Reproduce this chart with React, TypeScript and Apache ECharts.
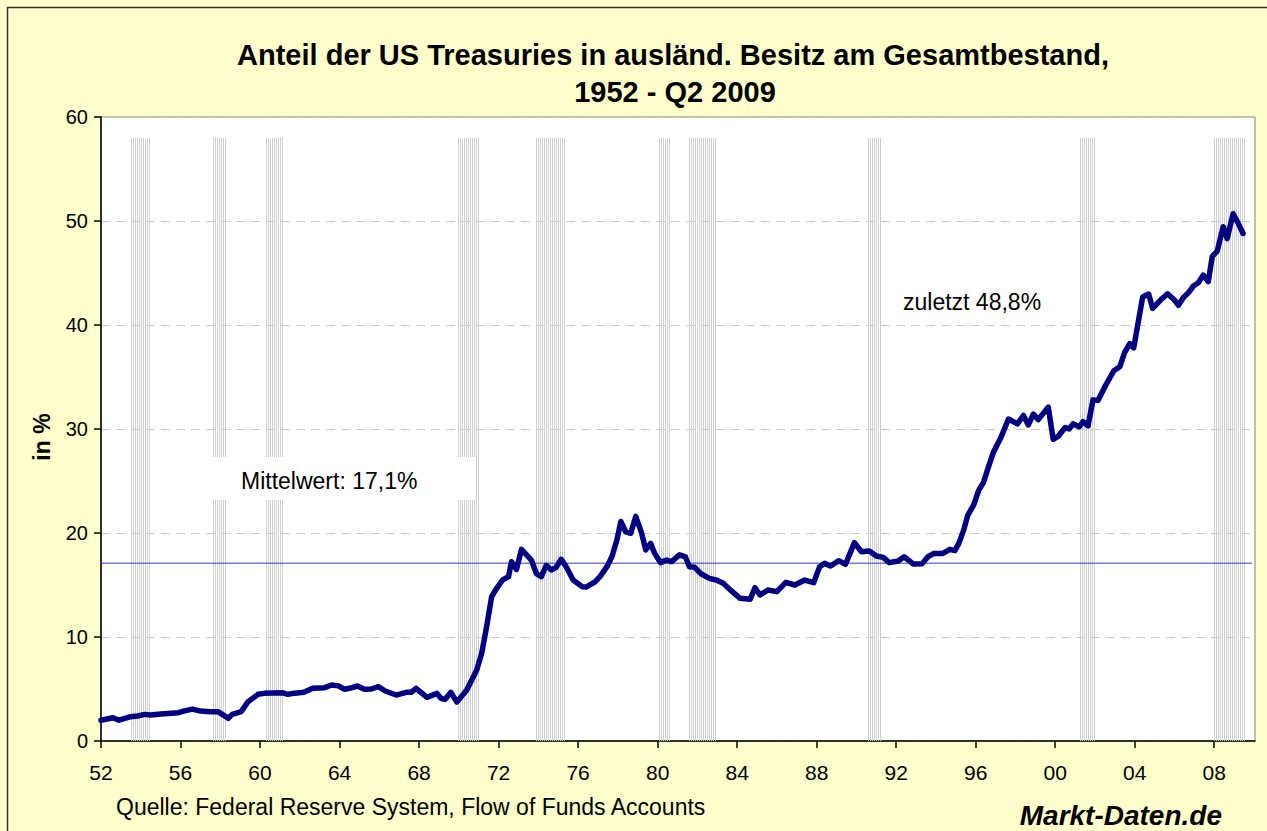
import React, { useEffect, useRef } from "react";
import * as echarts from "echarts";

const TITLE_1 = "Anteil der US Treasuries in ausländ. Besitz am Gesamtbestand,";
const TITLE_2 = "1952 - Q2 2009";
const Y_NAME = "in %";
const SOURCE = "Quelle: Federal Reserve System, Flow of Funds Accounts";
const BRAND = "Markt-Daten.de";
const MEAN_LABEL = "Mittelwert: 17,1%";
const LAST_LABEL = "zuletzt 48,8%";
const MEAN = 17.1;

const years = [
  1952.0, 1952.6, 1952.9, 1953.5, 1953.85, 1954.2, 1954.5, 1955.0, 1955.9, 1956.2,
  1956.6, 1957.0, 1957.5, 1957.9, 1958.1, 1958.4, 1958.6, 1959.05, 1959.4, 1959.9,
  1960.2, 1961.1, 1961.4, 1961.75, 1962.2, 1962.65, 1963.25, 1963.6, 1963.95, 1964.25,
  1964.5, 1964.9, 1965.25, 1965.6, 1965.95, 1966.3, 1966.85, 1967.35, 1967.6, 1967.85,
  1968.4, 1968.9, 1969.1, 1969.3, 1969.6, 1969.9, 1970.4, 1970.9, 1971.15, 1971.4,
  1971.65, 1971.9, 1972.2, 1972.5, 1972.65, 1972.9, 1973.15, 1973.65, 1973.9, 1974.15,
  1974.4, 1974.65, 1974.9, 1975.15, 1975.4, 1975.75, 1976.2, 1976.4, 1976.85, 1977.1,
  1977.45, 1977.7, 1977.95, 1978.15, 1978.4, 1978.65, 1978.9, 1979.2, 1979.4, 1979.65,
  1979.85, 1980.15, 1980.45, 1980.7, 1981.1, 1981.4, 1981.6, 1981.85, 1982.2, 1982.6,
  1982.95, 1983.3, 1983.7, 1984.15, 1984.65, 1984.9, 1985.15, 1985.55, 1986.0, 1986.45,
  1986.9, 1987.4, 1987.85, 1988.15, 1988.4, 1988.7, 1989.1, 1989.45, 1989.9, 1990.25,
  1990.65, 1991.0, 1991.35, 1991.65, 1992.1, 1992.4, 1992.85, 1993.3, 1993.6, 1993.9,
  1994.35, 1994.7, 1994.95, 1995.15, 1995.4, 1995.6, 1995.9, 1996.15, 1996.4, 1996.65,
  1996.9, 1997.25, 1997.65, 1998.1, 1998.4, 1998.65, 1998.9, 1999.15, 1999.65, 1999.9,
  2000.15, 2000.5, 2000.7, 2000.9, 2001.2, 2001.4, 2001.65, 2001.9, 2002.15, 2002.5,
  2002.95, 2003.25, 2003.5, 2003.75, 2003.95, 2004.15, 2004.4, 2004.7, 2004.9, 2005.3,
  2005.65, 2006.0, 2006.2, 2006.45, 2006.7, 2006.95, 2007.2, 2007.45, 2007.7, 2007.9,
  2008.15, 2008.45, 2008.65, 2008.95, 2009.2, 2009.45,
];

const shares = [
  2.0, 2.24, 2.0, 2.34, 2.4, 2.56, 2.5, 2.6, 2.72, 2.9,
  3.07, 2.88, 2.82, 2.82, 2.56, 2.18, 2.56, 2.82, 3.78, 4.49,
  4.58, 4.65, 4.49, 4.6, 4.68, 5.07, 5.13, 5.38, 5.3, 4.97,
  5.07, 5.29, 4.97, 5.0, 5.22, 4.81, 4.42, 4.68, 4.68, 5.07,
  4.2, 4.58, 4.1, 4.0, 4.68, 3.75, 4.9, 6.83, 8.43, 11.0,
  13.87, 14.68, 15.48, 15.8, 17.24, 16.5, 18.43, 17.4, 16.1, 15.8,
  16.9, 16.44, 16.7, 17.47, 16.76, 15.48, 14.84, 14.8, 15.3, 15.8,
  16.76, 17.72, 19.33, 21.1, 20.1, 19.97, 21.6, 19.97, 18.37, 19.0,
  18.04, 17.15, 17.4, 17.25, 17.9, 17.7, 16.76, 16.7, 16.06, 15.64,
  15.48, 15.16, 14.45, 13.72, 13.62, 14.74, 14.04, 14.52, 14.36, 15.26,
  15.0, 15.48, 15.22, 16.76, 17.08, 16.83, 17.34, 16.99, 19.07, 18.2,
  18.27, 17.79, 17.66, 17.15, 17.3, 17.72, 17.02, 17.05, 17.72, 18.04,
  18.04, 18.43, 18.3, 19.0, 20.3, 21.7, 22.7, 24.1, 24.9, 26.4,
  27.8, 29.1, 30.96, 30.5, 31.3, 30.4, 31.44, 30.9, 32.1, 29.0,
  29.3, 30.15, 30.0, 30.5, 30.2, 30.7, 30.3, 32.8, 32.75, 34.07,
  35.6, 35.99, 37.4, 38.2, 37.8, 40.0, 42.7, 42.98, 41.6, 42.4,
  43.0, 42.4, 41.9, 42.65, 43.1, 43.75, 44.07, 44.8, 44.17, 46.6,
  47.1, 49.45, 48.3, 50.7, 49.8, 48.8,
];

const recessionStart = [1953.53, 1957.61, 1960.28, 1969.94, 1973.86, 1980.05, 1981.56, 1990.56, 2001.23, 2007.97];
const recessionEnd = [1954.39, 1958.31, 1961.18, 1970.94, 1975.27, 1980.6, 1982.92, 1991.26, 2001.94, 2009.53];
const RECESSION_TOP = 58;

const X_MIN = 1952;
const X_MAX = 2010.05;
const FONT = "'Liberation Sans', Arial, sans-serif";

export default function App() {
  const ref = useRef<HTMLDivElement>(null);

  useEffect(() => {
    if (!ref.current) return;
    const chart = echarts.init(ref.current, null, { renderer: "svg" });

    const lineData = years.map((y, i) => [y, shares[i]]);
    const recData = recessionStart.map((s, i) => [s, recessionEnd[i]]);

    const option: any = {
      animation: false,
      backgroundColor: "#FFFFCC",
      textStyle: { fontFamily: FONT },
      grid: {
        left: 101,
        top: 117,
        right: 12,
        bottom: 90,
        show: true,
        backgroundColor: "#FFFFFF",
        borderColor: "#808080",
        borderWidth: 1,
      },
      xAxis: {
        type: "value",
        min: X_MIN,
        max: X_MAX,
        interval: 4,
        axisLine: { show: true, lineStyle: { color: "#000000", width: 1.5 } },
        axisTick: { show: true, inside: false, length: 7, lineStyle: { color: "#000000", width: 1.5 } },
        splitLine: { show: false },
        axisLabel: {
          color: "#000000",
          fontSize: 21,
          fontFamily: FONT,
          margin: 21,
          showMaxLabel: false,
          formatter: (v: number) => {
            const r = Math.round(v) % 100;
            return r < 10 ? "0" + r : String(r);
          },
        },
      },
      yAxis: {
        type: "value",
        min: 0,
        max: 60,
        interval: 10,
        axisLine: { show: true, lineStyle: { color: "#000000", width: 1.5 } },
        axisTick: { show: true, inside: false, length: 7, lineStyle: { color: "#000000", width: 1.5 } },
        splitLine: { show: true, lineStyle: { color: "#C8C8C8", width: 1, type: [9, 6] } },
        axisLabel: { color: "#000000", fontSize: 20, fontFamily: FONT, margin: 13 },
      },
      series: [
        {
          type: "custom",
          name: "recessions",
          data: recData,
          z: 1,
          silent: true,
          clip: true,
          renderItem: (params: any, api: any) => {
            const s = api.value(0);
            const e = api.value(1);
            const p0 = api.coord([s, RECESSION_TOP]);
            const p1 = api.coord([e, 0]);
            const x0 = Math.round(p0[0]);
            const x1 = Math.round(p1[0]);
            const children: any[] = [];
            for (let x = x0; x <= x1; x += 2) {
              children.push({
                type: "line",
                shape: { x1: x + 0.5, y1: p0[1], x2: x + 0.5, y2: p1[1] },
                style: { stroke: "#CFCFCF", lineWidth: 1 },
              });
            }
            return { type: "group", children };
          },
        },
        {
          type: "line",
          name: "mean",
          data: [
            [X_MIN, MEAN],
            [2009.9, MEAN],
          ],
          showSymbol: false,
          symbol: "none",
          z: 3,
          lineStyle: { color: "#3A3AB0", width: 1 },
          silent: true,
        },
        {
          type: "line",
          name: "share",
          data: lineData,
          showSymbol: false,
          symbol: "none",
          z: 4,
          lineStyle: { color: "#000080", width: 5.5, join: "round", cap: "round" },
          silent: true,
        },
      ],
      graphic: [
        {
          type: "rect",
          z: 100,
          shape: { x: 7.5, y: 7.5, width: 1280, height: 840 },
          style: { fill: "none", stroke: "#333333", lineWidth: 1.5 },
        },
        {
          type: "text",
          z: 100,
          x: 673,
          y: 55,
          style: {
            text: TITLE_1,
            font: `bold 29px ${FONT}`,
            fill: "#000000",
            align: "center",
            verticalAlign: "middle",
          },
        },
        {
          type: "text",
          z: 100,
          x: 675,
          y: 92,
          style: {
            text: TITLE_2,
            font: `bold 29px ${FONT}`,
            fill: "#000000",
            align: "center",
            verticalAlign: "middle",
          },
        },
        {
          type: "text",
          z: 100,
          x: 42,
          y: 437,
          rotation: Math.PI / 2,
          style: {
            text: Y_NAME,
            font: `bold 23px ${FONT}`,
            fill: "#000000",
            align: "center",
            verticalAlign: "middle",
          },
        },
        {
          type: "rect",
          z: 100,
          shape: { x: 212, y: 457, width: 263, height: 43 },
          style: { fill: "#FFFFFF" },
        },
        {
          type: "text",
          z: 101,
          x: 241,
          y: 481,
          style: {
            text: MEAN_LABEL,
            font: `23px ${FONT}`,
            fill: "#000000",
            align: "left",
            verticalAlign: "middle",
          },
        },
        {
          type: "text",
          z: 101,
          x: 903,
          y: 302,
          style: {
            text: LAST_LABEL,
            font: `23px ${FONT}`,
            fill: "#000000",
            align: "left",
            verticalAlign: "middle",
          },
        },
        {
          type: "text",
          z: 100,
          x: 116,
          y: 807,
          style: {
            text: SOURCE,
            font: `23px ${FONT}`,
            fill: "#000000",
            align: "left",
            verticalAlign: "middle",
          },
        },
        {
          type: "text",
          z: 100,
          x: 1222,
          y: 815,
          style: {
            text: BRAND,
            font: `italic bold 28px ${FONT}`,
            fill: "#000000",
            align: "right",
            verticalAlign: "middle",
          },
        },
      ],
    };

    chart.setOption(option);
    return () => chart.dispose();
  }, []);

  return (
    <div
      ref={ref}
      style={{ position: "fixed", left: 0, top: 0, width: 1267, height: 831 }}
    />
  );
}
